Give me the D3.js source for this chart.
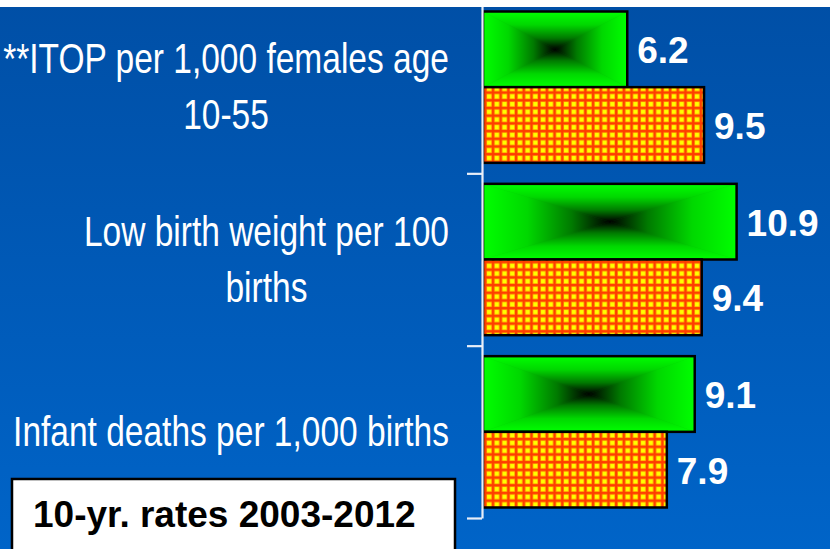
<!DOCTYPE html>
<html><head><meta charset="utf-8">
<script src="https://cdn.jsdelivr.net/npm/d3@7/dist/d3.min.js"></script>
<style>html,body{margin:0;padding:0;background:#fff;overflow:hidden}svg{display:block}</style>
</head><body>
<svg id="c" width="830" height="549"></svg>
<script>
// ---- data ----
const categories = ["ITOP", "LBW", "Infant"];
const categoryLines = [
  ["**ITOP per 1,000 females age", "10-55"],
  ["Low birth weight per 100", "births"],
  ["Infant deaths per 1,000 births"]
];
const greenValues = [6.2, 10.9, 9.1];
const orangeValues = [9.5, 9.4, 7.9];
const legendText = "10-yr. rates 2003-2012";
const boundaryTicks = [0, 1, 2, 3];

const W = 830, H = 549;
const svg = d3.select("#c");
const defs = svg.append("defs");

// background gradient
const bg = defs.append("linearGradient").attr("id", "bg").attr("x1", 0).attr("y1", 0).attr("x2", 0).attr("y2", 1);
bg.append("stop").attr("offset", 0).attr("stop-color", "#004fa6");
bg.append("stop").attr("offset", 1).attr("stop-color", "#0064c8");
svg.append("rect").attr("width", W).attr("height", H).attr("fill", "url(#bg)");

// green box-gradient pieces
const gStops = [[0, "#00ff00"], [0.35, "#00d800"], [0.7, "#007a00"], [1, "#000000"]];
function grad(id, x1, y1, x2, y2) {
  const g = defs.append("linearGradient").attr("id", id)
    .attr("x1", x1).attr("y1", y1).attr("x2", x2).attr("y2", y2);
  gStops.forEach(s => g.append("stop").attr("offset", s[0]).attr("stop-color", s[1]));
}
grad("gT", 0, 0, 0, 1);
grad("gB", 0, 1, 0, 0);
grad("gL", 0, 0, 1, 0);
grad("gR", 1, 0, 0, 0);

// orange grid pattern
const P = 7.7;
const pat = defs.append("pattern").attr("id", "grid").attr("patternUnits", "userSpaceOnUse")
  .attr("width", P).attr("height", P);
pat.append("rect").attr("width", P).attr("height", P).attr("fill", "#ff3c00");
pat.append("rect").attr("x", 1.3).attr("y", 1.3).attr("width", P - 2.2).attr("height", P - 2.2).attr("fill", "#ff9c00");
pat.append("rect").attr("x", 2.0).attr("y", 2.0).attr("width", P - 3.6).attr("height", P - 3.6).attr("fill", "#ffff00");

// scales
const x = d3.scaleLinear().domain([0, 15]).range([483, 832]);
const y = d3.scaleBand().domain(categories).range([1, 518]).padding(0);
const yb = d3.scaleLinear().domain([0, 3]).range([1, 518]);
const inset = 10.5;
const bh = (y.bandwidth() - 2 * inset) / 2;

// green bars
categories.forEach((c, i) => {
  const x0 = x(0), x1 = x(greenValues[i]);
  const y0 = y(c) + inset, y1 = y0 + bh;
  const cx = (x0 + x1) / 2, cy = (y0 + y1) / 2;
  const g = svg.append("g");
  g.append("rect").attr("x", x0).attr("y", y0).attr("width", x1 - x0).attr("height", bh).attr("fill", "#00a000");
  const tris = [
    ["gT", [[x0, y0], [x1, y0], [cx, cy]]],
    ["gB", [[x0, y1], [x1, y1], [cx, cy]]],
    ["gL", [[x0, y0], [x0, y1], [cx, cy]]],
    ["gR", [[x1, y0], [x1, y1], [cx, cy]]]
  ];
  tris.forEach(t => {
    g.append("path").attr("d", "M" + t[1].map(p => p.join(",")).join("L") + "Z")
      .attr("fill", "url(#" + t[0] + ")").attr("stroke", "url(#" + t[0] + ")").attr("stroke-width", 0.6);
  });
  g.append("rect").attr("x", x0).attr("y", y0).attr("width", x1 - x0).attr("height", bh)
    .attr("fill", "none").attr("stroke", "#000").attr("stroke-width", 2.5);
});

// orange bars
svg.selectAll(".ob").data(orangeValues).enter().append("rect")
  .attr("x", x(0)).attr("y", (d, i) => y(categories[i]) + inset + bh)
  .attr("width", d => x(d) - x(0)).attr("height", bh)
  .attr("fill", "url(#grid)").attr("stroke", "#000").attr("stroke-width", 2.5);

// value labels
function valLabels(vals, off) {
  svg.selectAll(null).data(vals).enter().append("text")
    .attr("x", d => x(d) + 10)
    .attr("y", (d, i) => y(categories[i]) + inset + off * bh + bh / 2)
    .attr("dy", "0.38em")
    .attr("fill", "#fff").attr("font-family", "Liberation Sans, Arial, sans-serif")
    .attr("font-weight", "bold").attr("font-size", 37)
    .text(d => d.toFixed(1));
}
valLabels(greenValues, 0);
valLabels(orangeValues, 1);

// axis
const axis = svg.append("g").attr("transform", "translate(482,0)")
  .call(d3.axisLeft(yb).tickValues(boundaryTicks).tickSize(15).tickSizeOuter(0).tickFormat(""));
axis.select(".domain").attr("stroke", "#e8eef8").attr("stroke-width", 2.2);
axis.selectAll(".tick line").attr("stroke", "#e8eef8").attr("stroke-width", 2.2);

// category labels
const labFont = "'Liberation Sans', Arial, sans-serif";
const FS = 42;
const probe = svg.append("text").attr("font-family", labFont).attr("font-size", FS).text("Infant deaths per 1,000 births");
const sx = 436 / probe.node().getComputedTextLength();
probe.remove();
categoryLines.forEach((lines, i) => {
  const cy = y(categories[i]) + y.bandwidth() / 2 + 14;
  const tmp = lines.map(l => {
    const t = svg.append("text").attr("font-family", labFont).attr("font-size", FS).text(l);
    const w = t.node().getComputedTextLength(); t.remove(); return w * sx;
  });
  const maxW = d3.max(tmp);
  const cx = 449 - maxW / 2;
  lines.forEach((l, j) => {
    const by = cy + (j - (lines.length - 1) / 2) * 56;
    svg.append("text").attr("transform", `translate(${cx},${by}) scale(${sx},1)`)
      .attr("text-anchor", "middle").attr("fill", "#fff")
      .attr("font-family", labFont).attr("font-size", FS).text(l);
  });
});

// top white strip
svg.append("rect").attr("x", 0).attr("y", 0).attr("width", W).attr("height", 7).attr("fill", "#fff");

// legend box
svg.append("rect").attr("x", 12).attr("y", 479).attr("width", 443).attr("height", 90)
  .attr("fill", "#fff").attr("stroke", "#000").attr("stroke-width", 2.5);
svg.append("text").attr("x", 33).attr("y", 527).attr("fill", "#000")
  .attr("font-family", "Liberation Sans, Arial, sans-serif").attr("font-weight", "bold").attr("font-size", 37)
  .text(legendText);
</script>
</body></html>
